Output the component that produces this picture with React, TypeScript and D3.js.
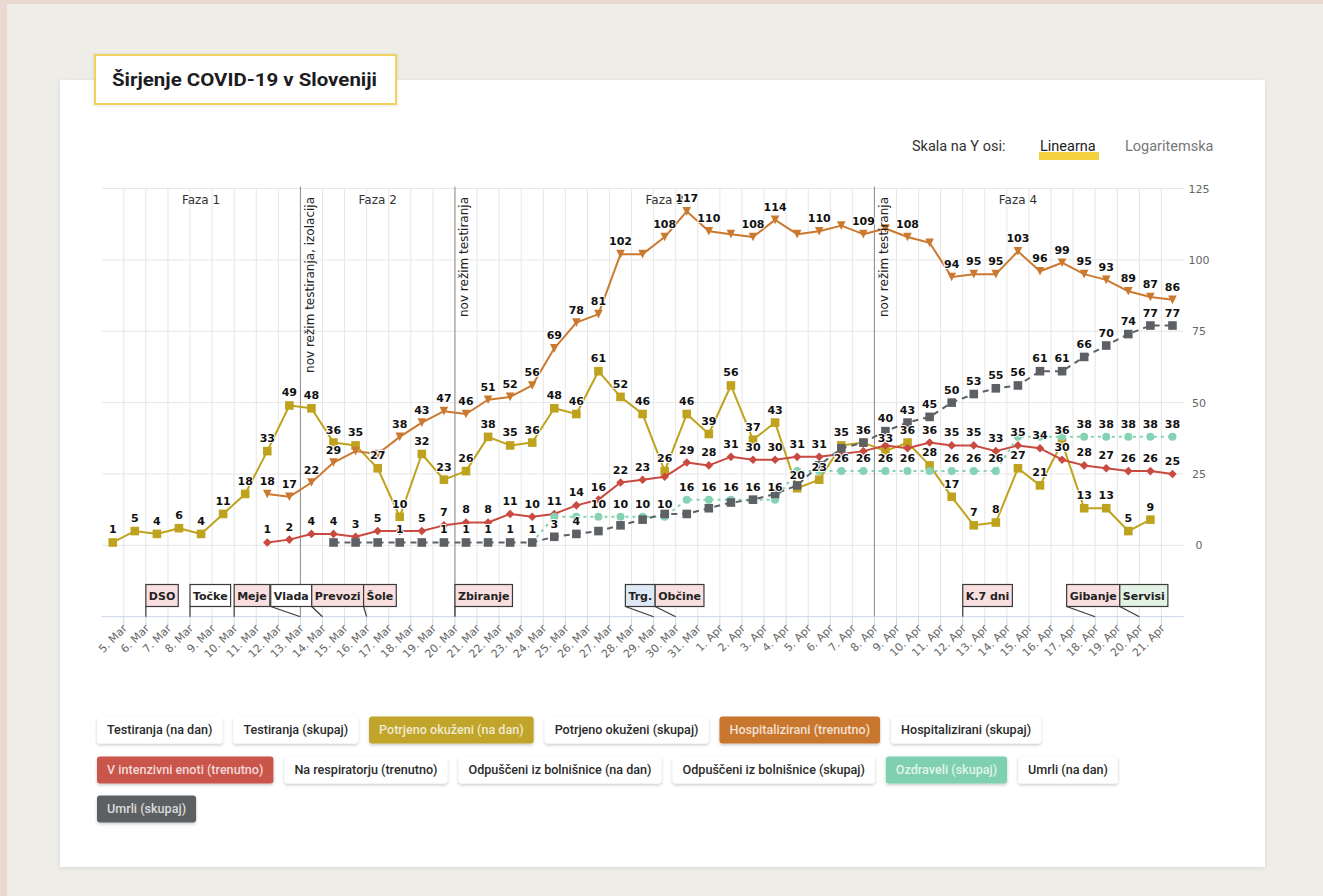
import React from 'react';
import * as d3 from 'd3';

// ---------------- DATA ----------------
const dayStart = new Date(Date.UTC(2020, 2, 4));
const dayEnd = new Date(Date.UTC(2020, 3, 22));
// one category per day: 4 Mar .. 21 Apr 2020
const days = d3.utcDay.range(dayStart, dayEnd);

const confirmedDaily = [1, 5, 4, 6, 4, 11, 18, 33, 49, 48, 36, 35, 27, 10, 32, 23, 26, 38, 35, 36, 48, 46, 61, 52, 46, 26, 46, 39, 56, 37, 43, 20, 23, 35, 36, 33, 36, 28, 17, 7, 8, 27, 21, 36, 13, 13, 5, 9, null];
const hospitalizedCurrent = [null, null, null, null, null, null, null, 18, 17, 22, 29, 33, 32, 38, 43, 47, 46, 51, 52, 56, 69, 78, 81, 102, 102, 108, 117, 110, 109, 108, 114, 109, 110, 112, 109, 111, 108, 106, 94, 95, 95, 103, 96, 99, 95, 93, 89, 87, 86];
const icuCurrent = [null, null, null, null, null, null, null, 1, 2, 4, 4, 3, 5, 5, 5, 7, 8, 8, 11, 10, 11, 14, 16, 22, 23, 24, 29, 28, 31, 30, 30, 31, 31, 32, 33, 35, 34, 36, 35, 35, 33, 35, 34, 30, 28, 27, 26, 26, 25];
const recoveredTotal = [null, null, null, null, null, null, null, null, null, null, null, null, null, null, null, null, null, null, null, 1, 10, 10, 10, 10, 10, 10, 16, 16, 16, 16, 16, 26, 26, 26, 26, 26, 26, 26, 26, 26, 26, 38, 38, 38, 38, 38, 38, 38, 38];
const deceasedTotal = [null, null, null, null, null, null, null, null, null, null, 1, 1, 1, 1, 1, 1, 1, 1, 1, 1, 3, 4, 5, 7, 9, 11, 11, 13, 15, 16, 18, 21, 28, 34, 36, 40, 43, 45, 50, 53, 55, 56, 61, 61, 66, 70, 74, 77, 77];

const yTicks = [0, 25, 50, 75, 100, 125];

const phaseNames = ['Faza 1', 'Faza 2', 'Faza 3', 'Faza 4'];
const phaseBounds = ['2020-03-04', '2020-03-13', '2020-03-20', '2020-04-08', '2020-04-21'];

const plotLineDates = ['2020-03-13', '2020-03-20', '2020-04-08'];
const plotLineLabels = ['nov režim testiranja, izolacija', 'nov režim testiranja', 'nov režim testiranja'];

const eventDates = ['2020-03-06', '2020-03-08', '2020-03-10', '2020-03-13', '2020-03-14', '2020-03-16', '2020-03-20', '2020-03-29', '2020-03-30', '2020-04-12', '2020-04-18', '2020-04-20'];
const eventTitles = ['DSO', 'Točke', 'Meje', 'Vlada', 'Prevozi', 'Šole', 'Zbiranje', 'Trg.', 'Občine', 'K.7 dni', 'Gibanje', 'Servisi'];
const eventKinds = ['restrict', 'info', 'restrict', 'info', 'restrict', 'restrict', 'restrict', 'economy', 'restrict', 'restrict', 'restrict', 'relax'];

const legendNames = [
  'Testiranja (na dan)', 'Testiranja (skupaj)', 'Potrjeno okuženi (na dan)', 'Potrjeno okuženi (skupaj)',
  'Hospitalizirani (trenutno)', 'Hospitalizirani (skupaj)', 'V intenzivni enoti (trenutno)', 'Na respiratorju (trenutno)',
  'Odpuščeni iz bolnišnice (na dan)', 'Odpuščeni iz bolnišnice (skupaj)', 'Ozdraveli (skupaj)', 'Umrli (na dan)', 'Umrli (skupaj)',
];

// ---------------- STYLE ----------------
const seriesDefs = [
  { name: 'Potrjeno okuženi (na dan)', values: confirmedDaily, color: '#bfa31e', marker: 'square', dash: null as string | null },
  { name: 'Hospitalizirani (trenutno)', values: hospitalizedCurrent, color: '#cc7930', marker: 'triangle-down', dash: null },
  { name: 'V intenzivni enoti (trenutno)', values: icuCurrent, color: '#c94a40', marker: 'diamond', dash: null },
  { name: 'Ozdraveli (skupaj)', values: recoveredTotal, color: '#85d3b4', marker: 'circle', dash: '3,4' },
  { name: 'Umrli (skupaj)', values: deceasedTotal, color: '#5d6065', marker: 'square', dash: '6,5' },
];
const legendActive: Record<string, string> = {
  'Potrjeno okuženi (na dan)': '#c0a52a',
  'Hospitalizirani (trenutno)': '#c9772f',
  'V intenzivni enoti (trenutno)': '#c9554b',
  'Ozdraveli (skupaj)': '#7fd0b1',
  'Umrli (skupaj)': '#5d6064',
};
const flagFill: Record<string, string> = {
  restrict: '#f9dfe0',
  info: '#ffffff',
  economy: '#dfe9f6',
  relax: '#e2f3e3',
};

const W = 1323;
const H = 896;
const PL = 101.7;
const PR = 1183.5;
const PT = 188.5;
const PB = 616.7;

const chartFont = '"DejaVu Sans", Verdana, sans-serif';
const uiFont = 'Roboto, "Open Sans", Arial, sans-serif';

let _ctx: CanvasRenderingContext2D | null = null;
function textWidth(s: string, font: string): number {
  if (!_ctx && typeof document !== 'undefined') {
    _ctx = document.createElement('canvas').getContext('2d');
  }
  if (!_ctx) return s.length * 6.5;
  _ctx.font = font;
  return _ctx.measureText(s).width;
}

function parseDay(s: string) {
  const [yy, mm, dd] = s.split('-').map(Number);
  return new Date(Date.UTC(yy, mm - 1, dd));
}

function markerPath(type: string, cx: number, cy: number) {
  const r = 4.3;
  switch (type) {
    case 'square':
      return `M${cx - r},${cy - r}H${cx + r}V${cy + r}H${cx - r}Z`;
    case 'triangle-down':
      return `M${cx - r},${cy - r}L${cx + r},${cy - r}L${cx},${cy + r}Z`;
    case 'diamond':
      return `M${cx},${cy - r}L${cx + r},${cy}L${cx},${cy + r}L${cx - r},${cy}Z`;
    default:
      return `M${cx - 4},${cy}a4,4 0 1,0 8,0a4,4 0 1,0 -8,0`;
  }
}

export default function App() {
  const x = d3.scaleUtc().domain([dayStart, dayEnd]).range([PL, PR]);
  const y = d3.scaleLinear().domain([-25, 125]).range([PB, PT]);
  const px = (i: number) => x(d3.utcHour.offset(days[i], 12));

  const tickDates = d3.utcDay.range(d3.utcDay.offset(dayStart, 1), dayEnd);
  const fmt = d3.utcFormat('%-d. %b');

  // data labels with overlap hiding (series order priority)
  const labelFont = `bold 11px ${chartFont}`;
  type Lab = { cx: number; py: number; text: string; bx: number; by: number; bw: number; bh: number; show: boolean };
  const labels: Lab[] = [];
  seriesDefs.forEach((s) => {
    s.values.forEach((v, i) => {
      if (v == null) return;
      const cx = px(i);
      const py = y(v);
      const text = String(v);
      const bw = textWidth(text, labelFont);
      const bh = 15;
      labels.push({ cx, py, text, bx: cx - bw / 2, by: py - 5 - bh, bw, bh, show: true });
    });
  });
  for (let i = 0; i < labels.length; i++) {
    for (let j = i + 1; j < labels.length; j++) {
      const a = labels[i];
      const b = labels[j];
      if (!a.show || !b.show) continue;
      const hit = !(b.bx >= a.bx + a.bw || b.bx + b.bw <= a.bx || b.by >= a.by + a.bh || b.by + b.bh <= a.by);
      if (hit) b.show = false;
    }
  }

  // flags: overlap detection on boxes centred on their anchors, clusters centred on their anchor span
  const flagFont = `bold 11px ${chartFont}`;
  const flags = eventDates.map((d, i) => ({
    anchor: x(parseDay(d)),
    title: eventTitles[i],
    kind: eventKinds[i],
    size: textWidth(eventTitles[i], flagFont) + 6,
    left: 0,
  }));
  type FBox = { targets: number[]; size: number; pos: number; members: typeof flags };
  const boxes: FBox[] = flags.map((f) => ({ targets: [f.anchor], size: f.size, pos: f.anchor - f.size / 2, members: [f] }));
  let changed = true;
  while (changed) {
    changed = false;
    for (let i = 0; i < boxes.length - 1; i++) {
      const a = boxes[i];
      const b = boxes[i + 1];
      if (a.pos + a.size > b.pos) {
        const targets = [...a.targets, ...b.targets];
        const size = a.size + b.size;
        const t = (Math.min(...targets) + Math.max(...targets)) / 2;
        boxes.splice(i, 2, { targets, size, pos: t - size / 2, members: [...a.members, ...b.members] });
        changed = true;
        break;
      }
    }
  }
  boxes.forEach((b) => {
    if (b.members.length === 1) {
      b.members[0].left = b.members[0].anchor;
      return;
    }
    let p = b.pos;
    b.members.forEach((m) => {
      m.left = p;
      p += m.size;
    });
  });
  const flagTop = 584.5;
  const flagBottom = 606.5;

  // legend layout
  const legFontSize = 12.6;
  const legFont = `500 ${legFontSize}px ${uiFont}`;
  const legItems: { name: string; x: number; y: number; w: number }[] = [];
  {
    let lx = 97;
    let row = 0;
    const rowY = [716.5, 756.5, 795.5];
    legendNames.forEach((n) => {
      const w = textWidth(n, legFont) + 20;
      if (lx + w > 1178) {
        row += 1;
        lx = 97;
      }
      legItems.push({ name: n, x: lx, y: rowY[Math.min(row, 2)], w });
      lx += w + 11;
    });
  }

  const line = d3
    .line<number | null>()
    .defined((d) => d != null)
    .x((_, i) => px(i))
    .y((d) => y(d as number));

  return (
    <svg width={W} height={H} style={{ position: 'absolute', left: 0, top: 0, display: 'block' }}>
      <defs>
        <filter id="cardShadow" x="-5%" y="-5%" width="110%" height="110%">
          <feDropShadow dx="0" dy="1" stdDeviation="2" floodColor="#000" floodOpacity="0.10" />
        </filter>
        <filter id="btnShadow" x="-10%" y="-20%" width="120%" height="150%">
          <feDropShadow dx="0" dy="1.5" stdDeviation="1.6" floodColor="#000" floodOpacity="0.22" />
        </filter>
      </defs>

      {/* page background */}
      <rect x={0} y={0} width={W} height={H} fill="#ead9d0" />
      <rect x={7} y={4} width={W - 7} height={H - 4} fill="#efede8" />

      {/* card */}
      <rect x={60} y={80} width={1205} height={787} fill="#ffffff" filter="url(#cardShadow)" />

      {/* title box */}
      <rect x={95} y={55} width={301} height={49} fill="#ffffff" stroke="#f2d25c" strokeWidth={2} filter="url(#cardShadow)" />
      <text x={112} y={86} fontFamily={uiFont} fontWeight={700} fontSize={18.5} fill="#1c1c22" textLength={265} lengthAdjust="spacingAndGlyphs">
        Širjenje COVID-19 v Sloveniji
      </text>

      {/* scale switch */}
      <text x={912} y={151} fontFamily={uiFont} fontSize={14.5} fill="#333">Skala na Y osi:</text>
      <rect x={1039} y={152} width={60} height={8} fill="#f4d13e" />
      <text x={1040} y={151} fontFamily={uiFont} fontSize={14.5} fill="#222">Linearna</text>
      <text x={1125} y={151} fontFamily={uiFont} fontSize={14.5} fill="#777">Logaritemska</text>

      {/* grid */}
      <g>
        {yTicks.map((t) => (
          <line key={'hy' + t} x1={PL} x2={PR} y1={y(t)} y2={y(t)} stroke="#e6e6e6" strokeWidth={1} />
        ))}
        {tickDates.map((d, i) => (
          <line key={'vx' + i} x1={x(d)} x2={x(d)} y1={PT} y2={PB} stroke="#e6e6e6" strokeWidth={1} />
        ))}
      </g>

      {/* phases */}
      {phaseNames.map((p, i) => {
        const cx = (x(parseDay(phaseBounds[i])) + x(parseDay(phaseBounds[i + 1]))) / 2;
        return (
          <text key={p} x={cx} y={204} textAnchor="middle" fontFamily={chartFont} fontSize={12} fill="#333">
            {p}
          </text>
        );
      })}

      {/* plot lines */}
      {plotLineDates.map((d) => (
        <line key={'pl' + d} x1={x(parseDay(d))} x2={x(parseDay(d))} y1={PT - 2} y2={PB} stroke="#8c8c8c" strokeWidth={1} />
      ))}

      {/* x axis */}
      <line x1={PL} x2={PR} y1={PB} y2={PB} stroke="#ccd6eb" strokeWidth={1} />
      {tickDates.map((d, i) => (
        <line key={'tk' + i} x1={x(d)} x2={x(d)} y1={PB} y2={PB + 9} stroke="#ccd6eb" strokeWidth={1} />
      ))}
      {tickDates.map((d, i) => (
        <text
          key={'tl' + i}
          transform={`translate(${x(d) + 4},${629}) rotate(-45)`}
          textAnchor="end"
          fontFamily={chartFont}
          fontSize={11}
          fill="#666"
        >
          {fmt(d)}
        </text>
      ))}

      {/* y axis labels (right) */}
      {yTicks.map((t) => (
        <text key={'yl' + t} x={1199} y={y(t) + 4} textAnchor="middle" fontFamily={chartFont} fontSize={11} fill="#666">
          {t}
        </text>
      ))}

      {/* flags */}
      {flags.map((f) => (
        <g key={'fl' + f.title}>
          <path d={`M${f.left},${flagBottom}L${f.anchor},${PB}`} stroke="#3a3a3a" strokeWidth={1.2} fill="none" />
          <rect
            x={f.left}
            y={flagTop}
            width={f.size}
            height={flagBottom - flagTop}
            fill={flagFill[f.kind]}
            stroke="#3a3a3a"
            strokeWidth={1.2}
          />
          <text
            x={f.left + f.size / 2}
            y={flagTop + 15}
            textAnchor="middle"
            fontFamily={chartFont}
            fontWeight="bold"
            fontSize={11}
            fill="#222"
          >
            {f.title}
          </text>
        </g>
      ))}

      {/* series */}
      {seriesDefs.map((s) => (
        <g key={'s' + s.name}>
          <path
            d={line(s.values) || ''}
            fill="none"
            stroke={s.color}
            strokeWidth={2}
            strokeDasharray={s.dash || undefined}
            strokeLinejoin="round"
          />
          {s.values.map((v, i) =>
            v == null ? null : <path key={i} d={markerPath(s.marker, px(i), y(v))} fill={s.color} />
          )}
        </g>
      ))}

      {/* data labels */}
      <g>
        {labels
          .filter((l) => l.show)
          .map((l, i) => (
            <text
              key={'dl' + i}
              x={l.cx}
              y={l.py - 9}
              textAnchor="middle"
              fontFamily={chartFont}
              fontWeight="bold"
              fontSize={11}
              fill="#111"
              stroke="#ffffff"
              strokeWidth={2}
              strokeLinejoin="round"
              paintOrder="stroke"
            >
              {l.text}
            </text>
          ))}
      </g>

      {/* plot line labels */}
      {plotLineDates.map((d, i) => (
        <text
          key={'pll' + d}
          transform={`translate(${x(parseDay(d)) + 13.5},${197}) rotate(-90)`}
          textAnchor="end"
          fontFamily={chartFont}
          fontSize={12}
          fill="#222"
        >
          {plotLineLabels[i]}
        </text>
      ))}

      {/* legend buttons */}
      {legItems.map((it) => {
        const active = legendActive[it.name];
        return (
          <g key={'lg' + it.name}>
            <rect x={it.x} y={it.y} width={it.w} height={27} rx={3} fill={active || '#ffffff'} filter="url(#btnShadow)" />
            <text
              x={it.x + it.w / 2}
              y={it.y + 17.8}
              textAnchor="middle"
              fontFamily={uiFont}
              fontWeight={500}
              fontSize={legFontSize}
              fill={active ? 'rgba(255,255,255,0.78)' : '#2b2b2b'}
            >
              {it.name}
            </text>
          </g>
        );
      })}
    </svg>
  );
}
